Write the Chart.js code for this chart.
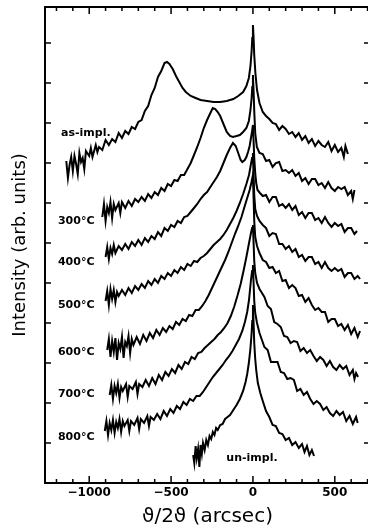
<!DOCTYPE html>
<html>
<head>
<meta charset="utf-8">
<script src="https://cdn.jsdelivr.net/npm/chart.js@4.4.1/dist/chart.umd.min.js"></script>
<style>
html, body { margin: 0; padding: 0; background: #fff; overflow: hidden; }
canvas { display: block; }
</style>
</head>
<body>
<canvas id="myChart" width="372" height="532"></canvas>
<script>
// courbes [ϑ/2ϑ en arcsec, intensité (u. arb.)]
const asImpl = [[-1140,322],[-1130,305],[-1120,318],[-1110,326],[-1100,312],[-1090,327],[-1080,319],[-1070,309],[-1060,330],[-1050,321],[-1040,325],[-1030,314],[-1020,332],[-1000,327],[-990,335],[-980,326],[-960,338],[-950,331],[-940,336],[-920,333],[-900,343],[-880,338],[-860,344],[-840,341],[-820,350],[-800,345],[-780,352],[-760,349],[-740,356],[-720,354],[-700,361],[-680,363],[-660,372],[-640,377],[-620,388],[-600,395],[-580,406],[-560,412],[-540,420],[-525,421],[-510,419],[-490,414],[-470,407],[-450,401],[-430,395],[-410,391],[-380,387],[-350,385],[-320,383],[-280,382],[-240,381],[-200,381],[-160,382],[-120,384],[-90,387],[-60,391],[-40,397],[-25,405],[-15,417],[-8,432],[-4,445],[0,458],[4,445],[8,428],[15,410],[25,393],[40,380],[60,371],[80,367],[100,364],[120,360],[140,359],[160,353],[180,357],[200,354],[220,349],[240,351],[260,346],[280,350],[300,343],[320,347],[340,340],[360,344],[380,337],[400,342],[420,338],[440,336],[460,341],[480,332],[500,338],[520,331],[540,335],[555,326],[565,337],[580,329]];

const c300 = [[-920,266],[-910,279],[-900,262],[-890,276],[-880,270],[-870,281],[-860,265],[-850,279],[-840,273],[-820,280],[-810,270],[-800,281],[-780,275],[-760,282],[-740,277],[-720,284],[-700,281],[-680,286],[-660,282],[-640,289],[-620,285],[-600,291],[-580,288],[-560,295],[-540,292],[-520,299],[-500,297],[-480,303],[-460,302],[-440,308],[-420,308],[-400,314],[-380,320],[-360,328],[-340,336],[-320,345],[-300,355],[-280,363],[-260,370],[-245,375],[-230,374],[-215,371],[-200,367],[-180,359],[-160,351],[-140,347],[-122,346],[-100,347],[-80,348],[-60,351],[-40,355],[-25,362],[-15,373],[-8,385],[-4,396],[0,408],[4,392],[8,372],[14,350],[24,336],[40,330],[60,329],[80,322],[100,323],[120,316],[140,320],[160,321],[180,312],[200,313],[220,310],[240,313],[260,307],[280,310],[300,302],[320,305],[340,299],[360,304],[380,304],[400,298],[420,300],[440,295],[460,301],[480,295],[500,292],[520,296],[540,294],[560,296],[580,288],[600,292],[610,284],[620,293]];

const c400 = [[-900,226],[-890,236],[-880,224],[-870,235],[-860,229],[-850,238],[-840,230],[-820,237],[-800,233],[-780,239],[-760,234],[-740,241],[-720,237],[-700,243],[-680,238],[-660,245],[-640,241],[-620,247],[-600,244],[-580,251],[-560,247],[-540,255],[-520,252],[-500,258],[-480,256],[-460,262],[-440,260],[-420,266],[-400,267],[-380,271],[-360,275],[-340,279],[-320,284],[-300,288],[-280,291],[-260,296],[-240,301],[-220,306],[-200,312],[-180,320],[-160,328],[-140,335],[-122,340],[-105,337],[-90,330],[-75,323],[-65,321],[-50,323],[-40,326],[-30,331],[-20,337],[-12,345],[-6,351],[0,358],[4,342],[8,325],[14,310],[20,300],[28,293],[43,290],[60,287],[80,288],[100,281],[120,286],[140,286],[160,277],[180,279],[200,275],[220,279],[240,273],[260,277],[280,268],[300,271],[320,265],[340,270],[360,270],[380,263],[400,265],[420,260],[440,266],[460,260],[480,256],[500,260],[520,257],[540,259],[560,251],[580,255],[600,255],[620,249],[636,252]];

const c500 = [[-900,182],[-890,192],[-880,178],[-870,194],[-860,184],[-850,193],[-840,181],[-830,191],[-820,187],[-800,193],[-780,188],[-760,195],[-740,190],[-720,197],[-700,193],[-680,199],[-660,195],[-640,202],[-620,198],[-600,204],[-580,200],[-560,207],[-540,204],[-520,210],[-500,207],[-480,213],[-460,210],[-440,216],[-420,213],[-400,219],[-380,217],[-360,222],[-340,221],[-320,225],[-300,227],[-280,230],[-260,234],[-240,238],[-220,241],[-200,244],[-180,248],[-160,253],[-140,259],[-120,265],[-100,272],[-80,280],[-60,289],[-40,299],[-24,308],[-12,319],[-5,325],[0,330],[4,306],[8,288],[14,274],[25,267],[40,262],[60,258],[80,255],[100,247],[120,250],[140,249],[160,239],[180,239],[200,234],[220,237],[240,231],[260,234],[280,226],[300,228],[320,222],[340,226],[360,226],[380,219],[400,221],[420,215],[440,221],[460,215],[480,212],[500,215],[520,212],[540,214],[560,206],[580,210],[600,210],[620,204],[640,207],[654,204]];

const c600 = [[-890,133],[-880,144],[-870,126],[-860,142],[-850,131],[-840,145],[-830,123],[-820,140],[-810,134],[-800,146],[-790,125],[-780,141],[-770,137],[-760,147],[-750,130],[-740,144],[-730,138],[-710,146],[-690,139],[-670,148],[-650,142],[-630,150],[-610,145],[-590,153],[-570,148],[-550,155],[-530,151],[-510,157],[-490,154],[-470,161],[-450,158],[-430,164],[-410,162],[-390,168],[-370,167],[-350,173],[-330,173],[-310,177],[-290,182],[-270,188],[-250,195],[-230,202],[-210,209],[-190,216],[-170,223],[-150,231],[-130,240],[-110,249],[-90,257],[-70,266],[-50,277],[-35,285],[-20,293],[-10,300],[0,308],[4,285],[8,262],[14,246],[25,237],[40,230],[60,223],[80,221],[100,215],[120,216],[140,210],[160,212],[180,202],[200,203],[220,195],[240,198],[260,195],[280,187],[300,188],[320,181],[340,185],[360,178],[380,173],[400,175],[420,171],[440,171],[460,161],[480,164],[500,164],[520,157],[540,159],[560,153],[580,158],[600,149],[620,155],[640,146],[654,152]];

const c700 = [[-875,88],[-865,98],[-855,84],[-845,97],[-835,90],[-825,99],[-815,85],[-805,96],[-795,92],[-775,99],[-765,86],[-755,97],[-735,94],[-715,101],[-705,89],[-695,99],[-675,96],[-655,103],[-635,97],[-615,105],[-595,99],[-575,108],[-555,103],[-535,111],[-515,107],[-495,114],[-475,110],[-455,118],[-435,114],[-415,121],[-395,119],[-375,126],[-355,124],[-335,130],[-315,131],[-295,135],[-275,138],[-255,141],[-235,144],[-215,148],[-195,151],[-175,155],[-155,160],[-135,167],[-115,176],[-95,187],[-75,199],[-55,214],[-40,226],[-25,239],[-12,250],[-5,255],[0,258],[4,240],[8,222],[14,210],[25,200],[40,194],[55,190],[70,186],[90,177],[110,174],[130,161],[150,159],[170,156],[190,147],[210,146],[230,140],[250,142],[270,141],[290,132],[310,135],[330,130],[350,133],[370,127],[390,122],[410,126],[430,123],[450,117],[470,122],[490,116],[510,113],[530,118],[550,114],[570,117],[590,108],[610,113],[620,104],[630,110],[642,106]];

const c800 = [[-905,52],[-895,62],[-885,48],[-875,60],[-865,53],[-855,63],[-845,50],[-835,61],[-825,55],[-815,64],[-805,51],[-795,62],[-785,57],[-765,63],[-755,52],[-745,62],[-725,58],[-705,65],[-695,54],[-685,64],[-665,60],[-645,67],[-635,57],[-625,66],[-605,63],[-585,69],[-565,64],[-545,72],[-525,67],[-505,74],[-485,70],[-465,77],[-445,74],[-425,81],[-405,78],[-385,84],[-365,82],[-345,87],[-325,87],[-305,91],[-285,96],[-265,101],[-245,106],[-225,110],[-205,114],[-185,118],[-165,123],[-145,127],[-125,132],[-105,138],[-85,144],[-65,152],[-49,161],[-35,171],[-24,183],[-12,203],[-5,212],[0,218],[4,200],[8,182],[14,170],[25,160],[40,150],[55,143],[70,136],[90,133],[110,121],[130,121],[150,121],[170,111],[190,110],[210,104],[230,105],[250,103],[270,92],[290,94],[310,88],[330,91],[350,84],[370,79],[390,82],[410,79],[430,73],[450,76],[470,70],[490,67],[510,72],[530,68],[550,71],[570,62],[590,67],[610,59],[630,66],[640,60]];

const unImpl = [[-365,28],[-358,20],[-350,37],[-343,25],[-335,34],[-327,16],[-320,38],[-312,29],[-305,40],[-295,33],[-285,43],[-275,38],[-265,47],[-255,44],[-245,51],[-235,48],[-225,55],[-215,53],[-200,58],[-185,59],[-170,64],[-155,66],[-140,68],[-120,73],[-100,78],[-80,84],[-60,92],[-45,101],[-35,109],[-25,120],[-15,135],[-8,150],[-4,162],[0,178],[4,160],[8,140],[14,124],[20,113],[30,100],[45,90],[60,82],[80,72],[100,66],[120,58],[140,57],[160,50],[180,49],[200,43],[220,45],[240,38],[260,41],[280,35],[300,39],[315,31],[330,37],[345,28],[360,33],[373,27]];

const courbes = [asImpl, c300, c400, c500, c600, c700, c800, unImpl];

// étiquettes des courbes
const nomsCourbes = ['as-impl.', '300°C', '400°C', '500°C', '600°C', '700°C', '800°C', 'un-impl.'];
const etiquetteX = [-1172, -1191, -1191, -1191, -1191, -1191, -1191, -6];
const etiquetteY = [350, 262, 221, 178, 131, 89, 46, 25];

// graduations
const xLabels = [-1000, -500, 0, 500];
const xTicks = [-1200, -1100, -1000, -900, -800, -700, -600, -500, -400, -300, -200, -100, 0, 100, 200, 300, 400, 500, 600, 700];
const yTicks = [40, 80, 120, 160, 200, 240, 280, 320, 360, 400, 440];

// cadre, graduations internes et étiquettes
const cadre = {
    id: 'cadre',
    afterDatasetsDraw(chart) {
        const { ctx, chartArea: a, scales: { x, y } } = chart;
        ctx.save();
        ctx.strokeStyle = '#000';
        ctx.lineWidth = 2;
        ctx.strokeRect(a.left, a.top, a.right - a.left, a.bottom - a.top);

        ctx.lineWidth = 1.5;
        ctx.beginPath();
        xTicks.forEach(v => {
            const px = x.getPixelForValue(v);
            const len = v % 500 === 0 ? 7 : 4;
            ctx.moveTo(px, a.bottom);
            ctx.lineTo(px, a.bottom - len);
            ctx.moveTo(px, a.top);
            ctx.lineTo(px, a.top + len);
        });
        yTicks.forEach(v => {
            const py = y.getPixelForValue(v);
            ctx.moveTo(a.left, py);
            ctx.lineTo(a.left + 6, py);
            ctx.moveTo(a.right, py);
            ctx.lineTo(a.right - 6, py);
        });
        ctx.stroke();

        ctx.fillStyle = '#000';
        ctx.font = 'bold 11px "DejaVu Sans"';
        ctx.textBaseline = 'middle';
        nomsCourbes.forEach((t, i) => {
            ctx.textAlign = i === nomsCourbes.length - 1 ? 'center' : 'left';
            ctx.fillText(t, x.getPixelForValue(etiquetteX[i]), y.getPixelForValue(etiquetteY[i]));
        });
        ctx.restore();
    }
};

const graph = document.getElementById('myChart');

new Chart(graph, {
    type: 'line',
    data: {
        datasets: courbes.map(c => ({
            data: c.map(p => ({ x: p[0], y: p[1] })),
            borderColor: '#000',
            borderWidth: 2,
            pointRadius: 0,
            tension: 0,
            fill: false
        }))
    },
    options: {
        responsive: false,
        animation: false,
        devicePixelRatio: 1,
        layout: { padding: { top: 7, right: 2, bottom: 0, left: 0 } },
        plugins: { legend: { display: false }, tooltip: { enabled: false } },
        scales: {
            x: {
                type: 'linear',
                min: -1270,
                max: 715,
                afterBuildTicks: s => { s.ticks = xLabels.map(v => ({ value: v })); },
                afterFit: s => { s.height = 49; },
                grid: { display: false, drawTicks: false },
                border: { display: false },
                ticks: {
                    color: '#000',
                    font: { family: 'DejaVu Sans', size: 12, weight: 'bold' },
                    padding: 3,
                    maxRotation: 0,
                    autoSkip: false,
                    callback: v => String(v).replace('-', '\u2212')
                },
                title: {
                    display: true,
                    text: 'ϑ/2ϑ (arcsec)',
                    color: '#000',
                    font: { family: 'DejaVu Sans', size: 20 },
                    padding: { top: 0, bottom: 3 }
                }
            },
            y: {
                min: 0,
                max: 476,
                afterFit: s => { s.width = 45; },
                grid: { display: false, drawTicks: false },
                border: { display: false },
                ticks: { display: false },
                title: {
                    display: true,
                    text: 'Intensity (arb. units)',
                    color: '#000',
                    font: { family: 'DejaVu Sans', size: 18 },
                    padding: { top: 10, bottom: 0 }
                }
            }
        }
    },
    plugins: [cadre]
});
</script>
</body>
</html>
